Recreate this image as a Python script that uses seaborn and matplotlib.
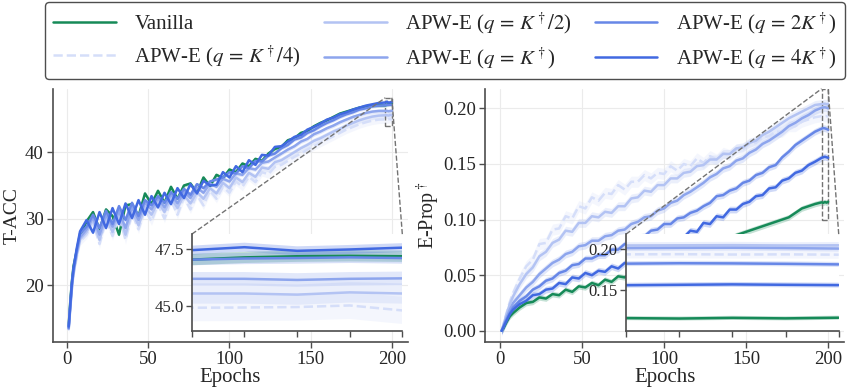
import matplotlib
matplotlib.use("Agg")
import matplotlib.pyplot as plt
import seaborn as sns
from matplotlib.ticker import FormatStrFormatter
from mpl_toolkits.axes_grid1.inset_locator import mark_inset

# ---- style ----
sns.set_style("ticks")
plt.rcParams['font.family'] = ['Liberation Serif', 'DejaVu Serif']
plt.rcParams['mathtext.fontset'] = 'stix'

# ---- data ----
epochs = [1, 2, 3, 4, 6] + list(range(8, 196, 4)) + [196, 197, 198, 199, 200]

labels = ['Vanilla', r'APW-E ($q\,=\,K^\dagger/4$)', r'APW-E ($q\,=\,K^\dagger/2$)',
          r'APW-E ($q\,=\,K^\dagger$)', r'APW-E ($q\,=\,2K^\dagger$)', r'APW-E ($q\,=\,4K^\dagger$)']
colors = ['#168a58', '#d5def9', '#b3c3f3', '#8da5ed', '#6787e7', '#4169e1']
styles = ['-', '--', '-', '-', '-', '-']

# T-ACC
tacc_vanilla = [13.9, 17.6, 20.6, 22.9, 25.2, 27.4,
                29.6, 31.0, 28.4, 31.4, 30.4, 27.6, 32.0, 32.2, 30.4, 33.8,
                32.2, 34.2, 32.4, 34.8, 33.0, 35.0, 35.3, 33.9, 36.2, 34.9,
                36.6, 36.1, 37.4, 37.0, 38.3, 37.9, 39.0, 38.7, 39.8, 40.5,
                40.8, 41.8, 42.1, 42.9, 43.2, 43.9, 44.4, 44.8, 45.3, 45.8,
                46.1, 46.4, 46.7, 46.9, 47.0, 47.05,
                47.05, 47.15, 47.2, 47.22, 47.2]
tacc_k4 = [13.3, 16.4, 19.4, 21.6, 24.3, 26.6,
           27.6, 29.4, 26.2, 29.8, 27.4, 30.4, 26.8, 30.8, 28.4, 31.4,
           29.6, 32.2, 30.0, 32.8, 30.6, 33.2, 31.4, 33.6, 32.0, 34.2,
           33.0, 34.8, 33.9, 35.6, 34.8, 36.3, 35.5, 37.0, 36.7, 37.8,
           38.1, 38.7, 39.3, 39.8, 40.4, 40.9, 41.4, 41.9, 42.4, 42.9,
           43.4, 43.8, 44.2, 44.5, 44.75, 44.9,
           44.92, 44.93, 44.95, 45.02, 44.8]
tacc_k2 = [13.4, 16.6, 19.6, 21.8, 24.6, 26.9,
           28.0, 29.8, 26.8, 30.2, 28.0, 30.8, 27.6, 31.2, 29.0, 31.8,
           30.6, 32.6, 31.0, 33.2, 31.6, 33.6, 32.3, 34.0, 33.0, 34.6,
           33.8, 35.4, 34.6, 36.2, 35.5, 36.9, 36.3, 37.7, 37.5, 38.5,
           38.8, 39.4, 40.0, 40.6, 41.1, 41.7, 42.1, 42.6, 43.1, 43.5,
           44.0, 44.4, 44.8, 45.1, 45.35, 45.5,
           45.55, 45.55, 45.5, 45.6, 45.55]
tacc_k = [13.5, 16.8, 19.9, 22.1, 24.9, 27.2,
          28.4, 30.2, 27.6, 30.6, 28.8, 31.2, 28.6, 31.8, 29.8, 32.4,
          31.4, 33.1, 31.7, 33.7, 32.3, 34.1, 33.1, 34.7, 33.9, 35.3,
          34.8, 36.0, 35.6, 36.8, 36.6, 37.6, 37.4, 38.4, 38.6, 39.2,
          39.8, 40.4, 40.9, 41.6, 42.0, 42.7, 43.1, 43.6, 44.0, 44.5,
          44.9, 45.3, 45.6, 45.9, 46.1, 46.2,
          46.2, 46.2, 46.15, 46.2, 46.22]
tacc_2k = [13.6, 17.0, 20.2, 22.4, 25.3, 27.8,
           28.8, 30.6, 28.6, 31.2, 29.2, 31.9, 29.8, 32.4, 30.4, 32.8,
           32.0, 33.4, 32.4, 34.0, 33.0, 34.5, 33.6, 35.2, 34.6, 35.6,
           35.9, 36.2, 37.0, 36.8, 37.9, 37.6, 38.7, 38.6, 39.5, 39.8,
           40.6, 41.1, 41.9, 42.2, 42.9, 43.3, 43.9, 44.4, 44.8, 45.3,
           45.7, 46.0, 46.4, 46.6, 46.9, 47.0,
           47.05, 47.1, 47.12, 47.15, 47.12]
tacc_4k = [13.8, 17.2, 20.4, 22.6, 25.6, 28.1,
           29.8, 27.9, 31.0, 28.6, 31.6, 29.2, 32.3, 30.1, 32.8, 30.6,
           33.4, 31.7, 33.9, 32.2, 34.6, 33.1, 35.2, 33.8, 35.7, 35.0,
           35.1, 37.0, 36.2, 37.9, 37.0, 38.8, 38.1, 39.6, 39.5, 40.8,
           40.9, 41.6, 42.3, 42.6, 43.4, 43.8, 44.3, 44.9, 45.2, 45.7,
           46.0, 46.4, 46.7, 47.0, 47.2, 47.4,
           47.47, 47.6, 47.44, 47.5, 47.58]

# E-Prop
eprop_vanilla = [0.000, 0.002, 0.005, 0.008, 0.013, 0.016,
                 0.021, 0.025, 0.026, 0.030, 0.029, 0.033, 0.032, 0.037, 0.035, 0.040,
                 0.039, 0.043, 0.041, 0.046, 0.044, 0.049, 0.048, 0.052, 0.053, 0.057,
                 0.057, 0.061, 0.061, 0.065, 0.064, 0.068, 0.068, 0.072, 0.073, 0.076,
                 0.078, 0.082, 0.083, 0.086, 0.088, 0.090, 0.092, 0.094, 0.096, 0.098,
                 0.100, 0.102, 0.106, 0.110, 0.112, 0.114,
                 0.1155, 0.1150, 0.1158, 0.1152, 0.1160]
eprop_k4 = [0.000, 0.005, 0.011, 0.016, 0.026, 0.034,
            0.047, 0.058, 0.064, 0.078, 0.079, 0.091, 0.092, 0.103, 0.101, 0.112,
            0.110, 0.120, 0.117, 0.124, 0.123, 0.131, 0.127, 0.134, 0.134, 0.140,
            0.137, 0.142, 0.141, 0.148, 0.144, 0.150, 0.148, 0.155, 0.151, 0.157,
            0.154, 0.160, 0.158, 0.163, 0.163, 0.168, 0.169, 0.174, 0.175, 0.179,
            0.179, 0.184, 0.184, 0.188, 0.190, 0.192,
            0.1930, 0.1932, 0.1928, 0.1930, 0.1926]
eprop_k2 = [0.000, 0.005, 0.010, 0.015, 0.024, 0.031,
            0.042, 0.051, 0.057, 0.067, 0.071, 0.079, 0.082, 0.090, 0.089, 0.097,
            0.097, 0.103, 0.102, 0.107, 0.106, 0.112, 0.112, 0.119, 0.120, 0.126,
            0.125, 0.131, 0.131, 0.137, 0.137, 0.142, 0.143, 0.148, 0.149, 0.154,
            0.154, 0.159, 0.159, 0.164, 0.165, 0.169, 0.171, 0.176, 0.179, 0.183,
            0.187, 0.191, 0.194, 0.197, 0.200, 0.203,
            0.2038, 0.2040, 0.2042, 0.2038, 0.2040]
eprop_k = [0.000, 0.004, 0.008, 0.012, 0.019, 0.025,
           0.032, 0.039, 0.044, 0.051, 0.056, 0.061, 0.064, 0.069, 0.071, 0.076,
           0.077, 0.081, 0.081, 0.085, 0.086, 0.090, 0.091, 0.096, 0.098, 0.102,
           0.103, 0.108, 0.110, 0.115, 0.117, 0.122, 0.125, 0.129, 0.133, 0.138,
           0.141, 0.146, 0.148, 0.153, 0.155, 0.160, 0.163, 0.168, 0.171, 0.175,
           0.179, 0.184, 0.187, 0.191, 0.194, 0.198,
           0.2005, 0.2008, 0.2010, 0.2006, 0.2000]
eprop_2k = [0.000, 0.003, 0.007, 0.010, 0.016, 0.021,
            0.027, 0.031, 0.037, 0.040, 0.045, 0.047, 0.052, 0.054, 0.059, 0.060,
            0.065, 0.065, 0.068, 0.068, 0.073, 0.073, 0.078, 0.079, 0.084, 0.085,
            0.090, 0.091, 0.096, 0.096, 0.101, 0.102, 0.106, 0.108, 0.112, 0.115,
            0.121, 0.122, 0.126, 0.128, 0.133, 0.135, 0.140, 0.142, 0.147, 0.149,
            0.156, 0.161, 0.167, 0.171, 0.175, 0.179,
            0.1817, 0.1822, 0.1820, 0.1815, 0.1808]
eprop_4k = [0.000, 0.003, 0.006, 0.009, 0.015, 0.019,
            0.024, 0.027, 0.032, 0.033, 0.037, 0.038, 0.043, 0.042, 0.048, 0.047,
            0.052, 0.050, 0.054, 0.053, 0.058, 0.056, 0.061, 0.061, 0.066, 0.067,
            0.073, 0.072, 0.079, 0.077, 0.084, 0.084, 0.090, 0.089, 0.097, 0.096,
            0.103, 0.102, 0.109, 0.109, 0.114, 0.116, 0.121, 0.122, 0.128, 0.129,
            0.135, 0.137, 0.142, 0.144, 0.149, 0.152,
            0.1555, 0.1560, 0.1565, 0.1560, 0.1556]

tacc = [tacc_vanilla, tacc_k4, tacc_k2, tacc_k, tacc_2k, tacc_4k]
eprop = [eprop_vanilla, eprop_k4, eprop_k2, eprop_k, eprop_2k, eprop_4k]
# half-width of the shaded seed bands
tacc_band = [0.25, 0.6, 0.45, 0.3, 0.25, 0.2]
eprop_band = [0.0025, 0.005, 0.004, 0.0035, 0.003, 0.003]

for s in tacc + eprop:
    assert len(s) == len(epochs), len(s)


def draw(ax, series, bands, lw=1.8):
    for ys, band, c, ls, lab in zip(series, bands, colors, styles, labels):
        ax.fill_between(epochs, [y - band for y in ys], [y + band for y in ys],
                        color=c, alpha=0.25, lw=0)
        sns.lineplot(x=epochs, y=ys, ax=ax, color=c, lw=lw, linestyle=ls,
                     label=lab, legend=False)


def style_axes(ax):
    ax.grid(True, color='#ebebeb', lw=0.8)
    sns.despine(ax=ax)
    for sp in ['left', 'bottom']:
        ax.spines[sp].set_color('0.3')
        ax.spines[sp].set_linewidth(1.2)
    ax.tick_params(labelsize=13.5, length=4, width=1, color='0.3', pad=2.5)


def add_inset(ax, series, bands, ylim, yticks, fmt):
    axins = ax.inset_axes([0.392, 0.042, 0.592, 0.384])
    draw(axins, series, bands)
    axins.set_xlim(196, 200)
    axins.set_ylim(*ylim)
    axins.set_xticks([196, 197, 198, 199, 200])
    axins.set_xticklabels([])
    axins.set_yticks(yticks)
    axins.yaxis.set_major_formatter(FormatStrFormatter(fmt))
    axins.set_xlabel('')
    axins.set_ylabel('')
    sns.despine(ax=axins)
    for sp in ['left', 'bottom']:
        axins.spines[sp].set_color('0.3')
        axins.spines[sp].set_linewidth(1.2)
    axins.tick_params(labelsize=12, length=4, width=1, color='0.3', pad=2)
    mark_inset(ax, axins, loc1=2, loc2=1, fc='none', ec='0.45', ls='--', lw=1)


fig = plt.figure(figsize=(8.47, 3.92), dpi=100)
ax1 = fig.add_axes([0.062, 0.128, 0.4197, 0.645])
ax2 = fig.add_axes([0.573, 0.128, 0.424, 0.645])

# left: T-ACC
draw(ax1, tacc, tacc_band)
style_axes(ax1)
ax1.set_xticks([0, 50, 100, 150, 200])
ax1.set_yticks([20, 30, 40])
ax1.set_ylim(11.5, 49.5)
ax1.set_xlabel('Epochs', fontsize=15, labelpad=0)
ax1.set_ylabel('T-ACC', fontsize=14)
ax1.yaxis.set_label_coords(-0.09, 0.5)
add_inset(ax1, tacc, tacc_band, (43.88, 48.18), [45.0, 47.5], '%.1f')

# right: E-Prop
draw(ax2, eprop, eprop_band)
style_axes(ax2)
ax2.set_xticks([0, 50, 100, 150, 200])
ax2.set_yticks([0.0, 0.05, 0.10, 0.15, 0.20])
ax2.yaxis.set_major_formatter(FormatStrFormatter('%.2f'))
ax2.set_ylim(-0.0099, 0.2174)
ax2.set_xlabel('Epochs', fontsize=15, labelpad=0)
ax2.set_ylabel(r'E-Prop$^\dagger$', fontsize=14.5)
ax2.yaxis.set_label_coords(-0.122, 0.5)
add_inset(ax2, eprop, eprop_band, (0.0996, 0.2176), [0.15, 0.20], '%.2f')

handles, labs = ax1.get_legend_handles_labels()
fig.legend(handles[:6], labs[:6], loc='upper left', bbox_to_anchor=(0.053, 0.8, 0.945, 0.195),
           mode='expand', ncol=3, fontsize=15, frameon=True, fancybox=True,
           edgecolor='0.3', framealpha=1, handlelength=3.0, handletextpad=0.9,
           labelspacing=0.45, borderaxespad=0)

fig.savefig('out.png', dpi=100)
